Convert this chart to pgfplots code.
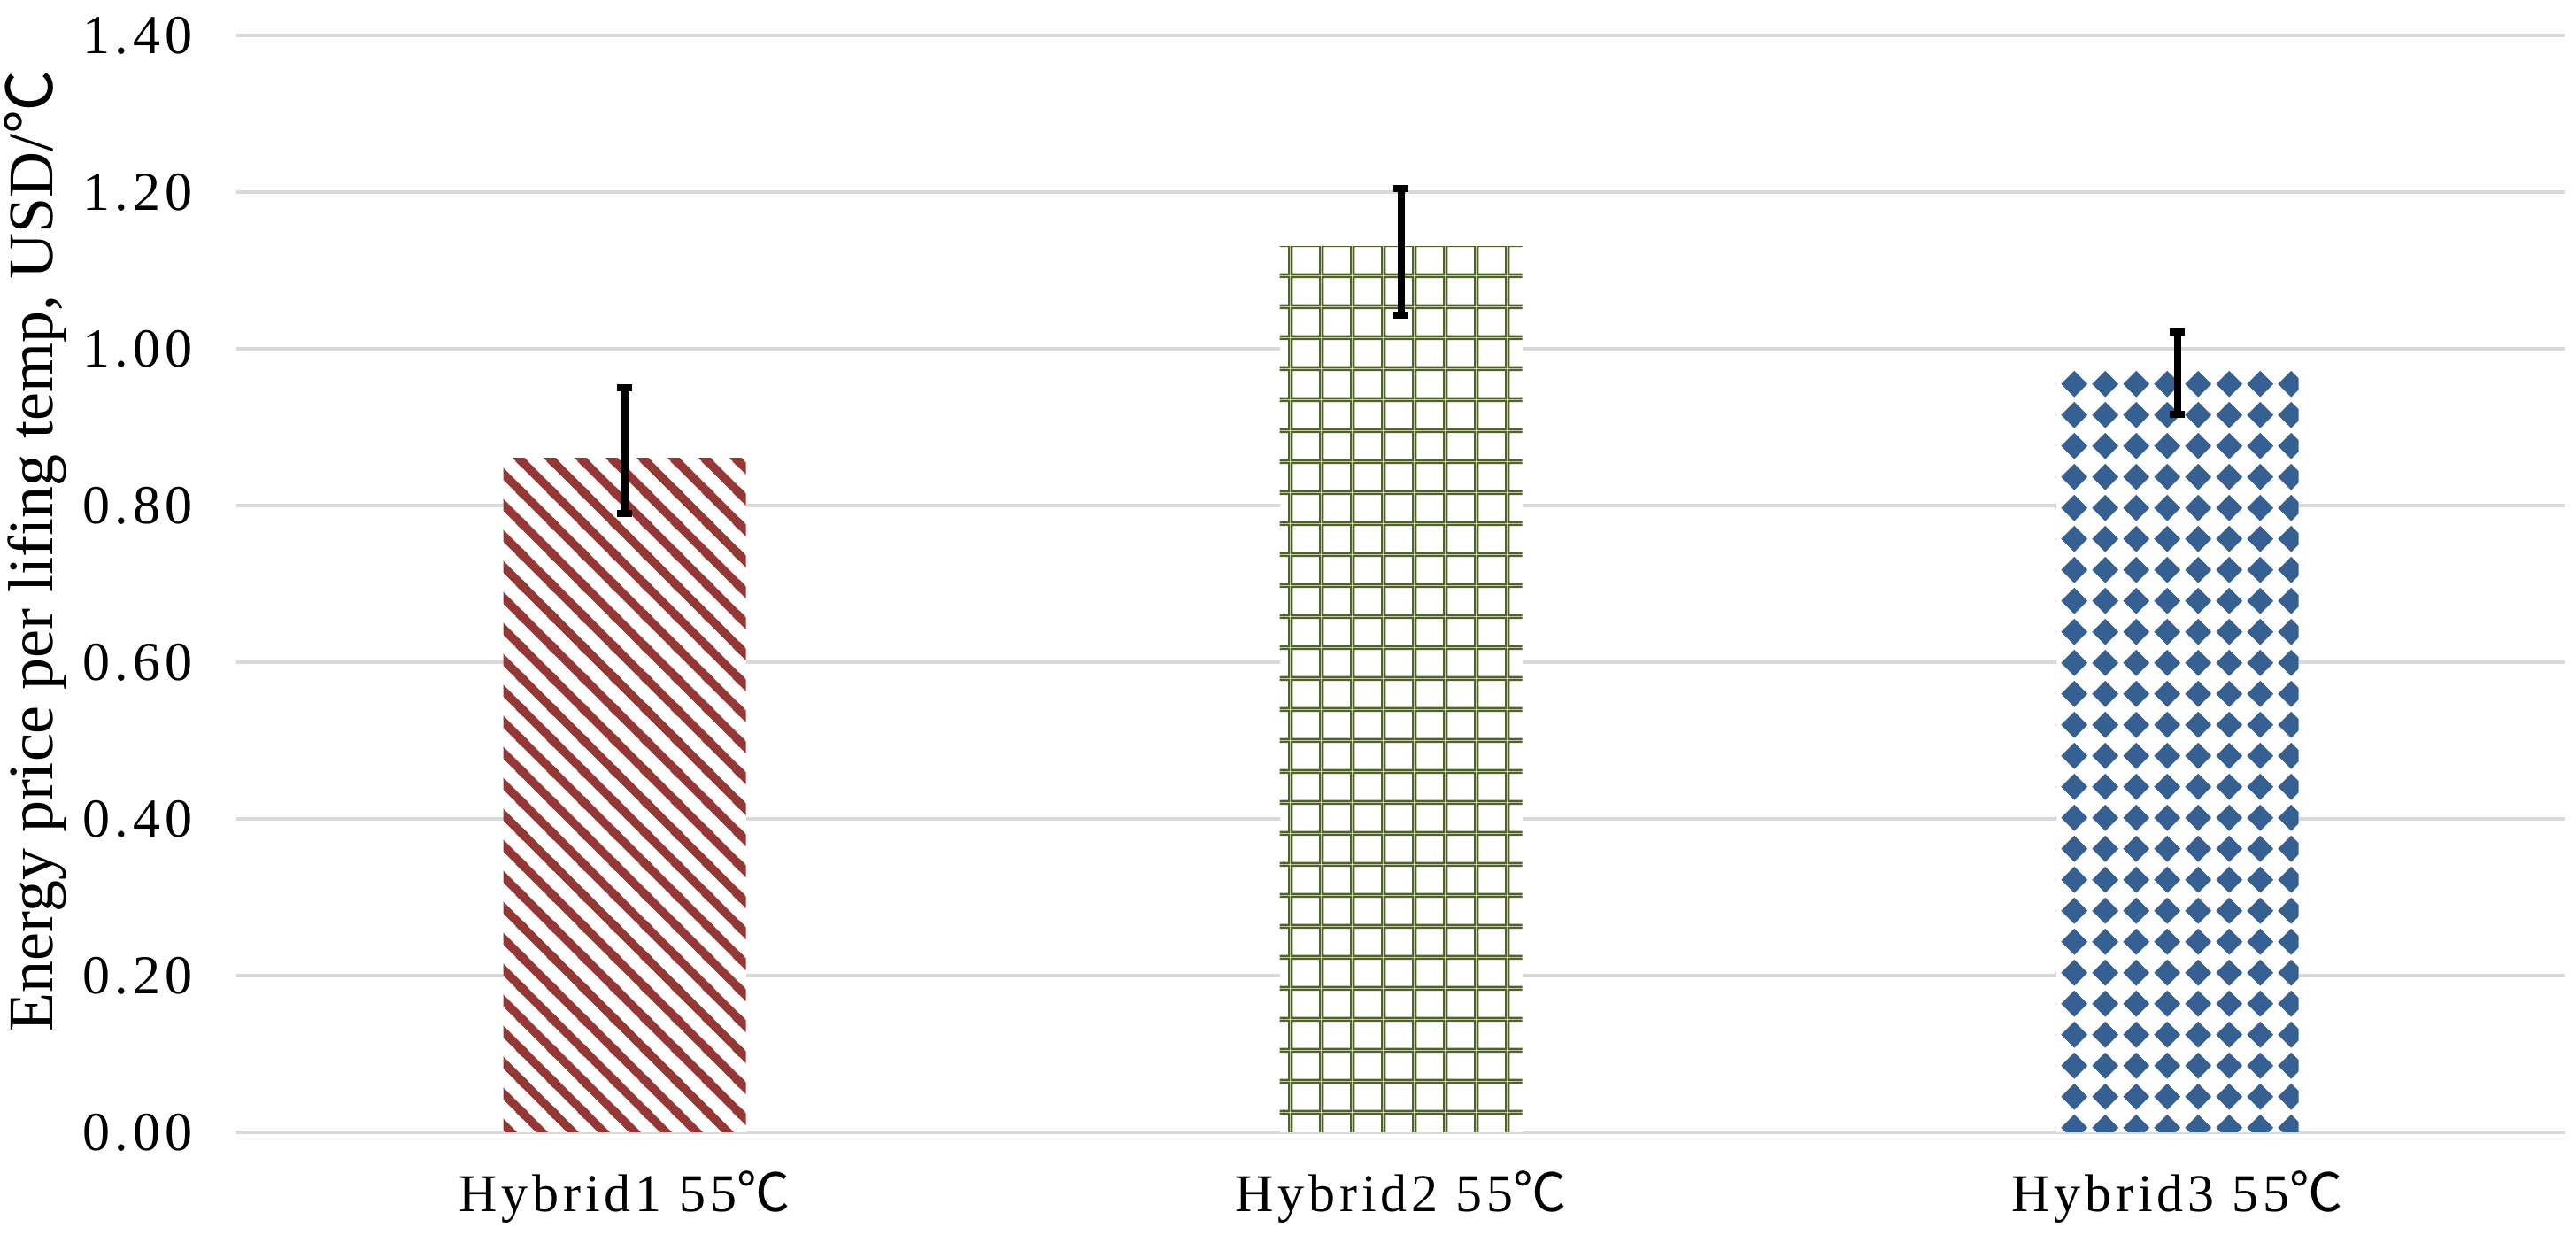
\documentclass[border=0pt]{standalone}
\usepackage{fontspec}
\setmainfont{Liberation Serif}
\newfontfamily\cjk{Noto Sans CJK KR}
\newfontfamily\tickfont[LetterSpace=8]{Liberation Serif}
\usepackage{pgfplots}
\pgfplotsset{compat=1.18}
\usetikzlibrary{patterns}
\newcommand{\degC}{{\cjk ℃}}

\definecolor{cRed}{RGB}{149,55,53}
\definecolor{cGreen}{RGB}{79,98,40}
\definecolor{cBlue}{RGB}{54,96,146}
\definecolor{gridgray}{RGB}{217,217,217}

\pgfdeclarepatternformonly{hatchNW}{\pgfqpoint{0bp}{0bp}}{\pgfqpoint{8.68bp}{8.68bp}}{\pgfqpoint{8.68bp}{8.68bp}}{%
  \pgfsetlinewidth{2.4bp}%
  \pgfpathmoveto{\pgfqpoint{-1bp}{1bp}}\pgfpathlineto{\pgfqpoint{1bp}{-1bp}}%
  \pgfpathmoveto{\pgfqpoint{-1bp}{9.68bp}}\pgfpathlineto{\pgfqpoint{9.68bp}{-1bp}}%
  \pgfpathmoveto{\pgfqpoint{7.68bp}{9.68bp}}\pgfpathlineto{\pgfqpoint{9.68bp}{7.68bp}}%
  \pgfusepath{stroke}%
}
\pgfdeclarepatternformonly{gridpat}{\pgfqpoint{0bp}{0bp}}{\pgfqpoint{8.68bp}{8.68bp}}{\pgfqpoint{8.68bp}{8.68bp}}{%
  \pgfpathrectangle{\pgfqpoint{0bp}{0bp}}{\pgfqpoint{0.62bp}{8.68bp}}%
  \pgfpathrectangle{\pgfqpoint{8.06bp}{0bp}}{\pgfqpoint{0.62bp}{8.68bp}}%
  \pgfpathrectangle{\pgfqpoint{0bp}{0bp}}{\pgfqpoint{8.68bp}{0.62bp}}%
  \pgfpathrectangle{\pgfqpoint{0bp}{8.06bp}}{\pgfqpoint{8.68bp}{0.62bp}}%
  \pgfusepath{fill}%
}
\pgfdeclarepatternformonly{diapat}{\pgfqpoint{0bp}{0bp}}{\pgfqpoint{8.68bp}{8.68bp}}{\pgfqpoint{8.68bp}{8.68bp}}{%
  \pgfpathmoveto{\pgfqpoint{4.34bp}{0.6bp}}%
  \pgfpathlineto{\pgfqpoint{8.08bp}{4.34bp}}%
  \pgfpathlineto{\pgfqpoint{4.34bp}{8.08bp}}%
  \pgfpathlineto{\pgfqpoint{0.6bp}{4.34bp}}%
  \pgfpathclose
  \pgfusepath{fill}%
}

\begin{document}
\begin{tikzpicture}
\path[use as bounding box] (0,0) rectangle (727.5bp,348.75bp);
\begin{axis}[
  at={(66.75bp,29bp)}, anchor=south west,
  scale only axis, width=657.75bp, height=309.75bp,
  ybar, bar width=68.5bp,
  xmin=-0.5, xmax=2.5, ymin=0, ymax=1.4,
  xtick={0,1,2},
  xticklabels={Hybrid1 55\degC, Hybrid2 55\degC, Hybrid3 55\degC},
  ytick={0,0.2,0.4,0.6,0.8,1.0,1.2,1.4},
  yticklabel style={font=\tickfont\fontsize{15.5bp}{18bp}\selectfont, anchor=east, inner sep=0pt, xshift=-12.25bp,
    /pgf/number format/fixed, /pgf/number format/fixed zerofill, /pgf/number format/precision=2, /pgf/number format/assume math mode=true},
  xticklabel style={font=\tickfont\fontsize{15bp}{18bp}\selectfont, anchor=base, inner sep=0pt, yshift=-22.25bp},
  major tick length=0pt,
  axis line style={draw=none},
  ymajorgrids, grid style={gridgray, line width=1bp},
  ylabel={Energy price per lifing temp, USD/\degC},
  every axis y label/.style={at={(axis description cs:-0.0863,0.530)}, rotate=90, anchor=center, font=\fontsize{18bp}{20bp}\selectfont},
  error bars/error bar style={line width=2bp, black},
  error bars/error mark options={rotate=90, mark size=2.2bp, line width=2bp, black},
]
\addplot[bar shift=0pt, draw=none, fill=white, postaction={pattern=hatchNW, pattern color=cRed},
  error bars/.cd, y dir=both, y explicit]
  table[x=x, y=y, y error plus=ep, y error minus=em, row sep=\\]{
  x y ep em \\
  0 0.86 0.09 0.07 \\
  };
\addplot[bar shift=0pt, draw=none, fill=white, postaction={pattern=gridpat, pattern color=cGreen},
  error bars/.cd, y dir=both, y explicit]
  table[x=x, y=y, y error plus=ep, y error minus=em, row sep=\\]{
  x y ep em \\
  1 1.13 0.074 0.087 \\
  };
\addplot[bar shift=0pt, draw=none, fill=white, postaction={pattern=diapat, pattern color=cBlue},
  error bars/.cd, y dir=both, y explicit]
  table[x=x, y=y, y error plus=ep, y error minus=em, row sep=\\]{
  x y ep em \\
  2 0.973 0.048 0.057 \\
  };
\end{axis}
\end{tikzpicture}
\end{document}
